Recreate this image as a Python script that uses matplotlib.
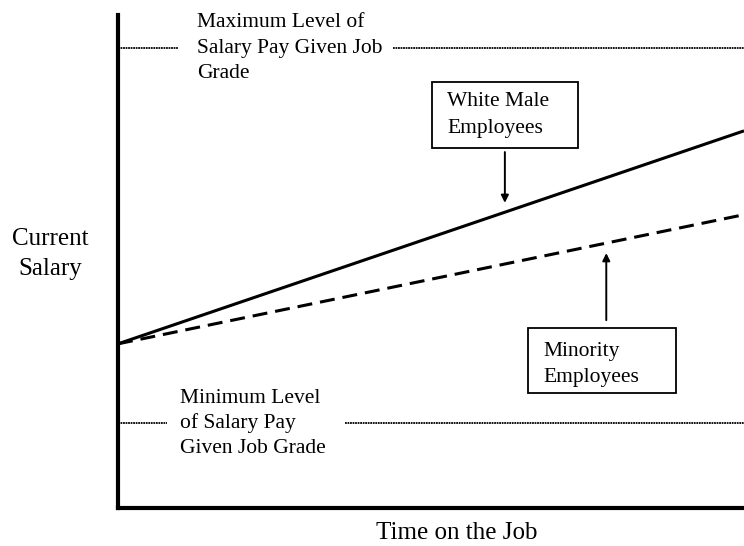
"""Salary growth within a job grade: white male vs minority employees (schematic)."""
import matplotlib
matplotlib.use("Agg")
import matplotlib.pyplot as plt
from matplotlib.patches import Rectangle

# ---- data -------------------------------------------------------------------------------------
time = [0, 10]
white_male = [33.3, 76.5]
minority = [33.3, 59.5]
max_level = 93.3
min_level = 17.2

plt.rcParams["font.family"] = ["Liberation Serif", "DejaVu Serif"]

fig = plt.figure(figsize=(7.44, 5.46), dpi=100)
ax = fig.add_axes([118 / 744, 38 / 546, 1 - 118 / 744, 493 / 546])
ax.set_xlim(0, 10)
ax.set_ylim(0, 100)
for s in ("top", "right"):
    ax.spines[s].set_visible(False)
for s in ("left", "bottom"):
    ax.spines[s].set_linewidth(3.0)
    ax.spines[s].set_capstyle("projecting")
ax.set_xticks([])
ax.set_yticks([])

# salary trajectories
ax.plot(time, white_male, color="black", lw=2.2, solid_capstyle="butt", clip_on=False)
ax.plot(time, minority, color="black", lw=2.2, ls=(0, (4.9, 2.6)), clip_on=False)

# grade boundaries, broken where the label sits
lvl = dict(color="black", lw=1.3, ls=(0, (1, 0.4)))
ax.plot([0, 0.96], [max_level] * 2, **lvl)
ax.plot([4.39, 10], [max_level] * 2, **lvl)
ax.plot([0, 0.78], [min_level] * 2, **lvl)
ax.plot([3.63, 10], [min_level] * 2, **lvl)

fs = 15.5
ax.text(1.26, max_level, "Maximum Level of\nSalary Pay Given Job\nGrade",
        fontsize=fs, ha="left", va="center", linespacing=1.44)
ax.text(0.99, min_level, "Minimum Level\nof Salary Pay\nGiven Job Grade",
        fontsize=fs, ha="left", va="center", linespacing=1.38)

# callout boxes
ax.add_patch(Rectangle((5.02, 73.0), 2.33, 13.4, fill=False, lw=1.3, ec="black"))
ax.text(5.26, 79.7, "White Male\nEmployees", fontsize=fs, ha="left", va="center",
        linespacing=1.55)
ax.annotate("", xy=(6.18, 61.9), xytext=(6.18, 72.2),
            arrowprops=dict(arrowstyle="-|>", lw=1.4, color="black", mutation_scale=11,
                            shrinkA=0, shrinkB=0))

ax.add_patch(Rectangle((6.55, 23.3), 2.36, 13.2, fill=False, lw=1.3, ec="black"))
ax.text(6.79, 29.1, "Minority\nEmployees", fontsize=fs, ha="left", va="center",
        linespacing=1.55)
ax.annotate("", xy=(7.80, 51.7), xytext=(7.80, 38.1),
            arrowprops=dict(arrowstyle="-|>", lw=1.4, color="black", mutation_scale=11,
                            shrinkA=0, shrinkB=0))

fig.text(50 / 744, 1 - 254 / 546, "Current\nSalary", fontsize=18, ha="center", va="center",
         linespacing=1.5)
fig.text(457 / 744, 1 - 533 / 546, "Time on the Job", fontsize=18, ha="center", va="center")

fig.savefig("out.png", dpi=100)
